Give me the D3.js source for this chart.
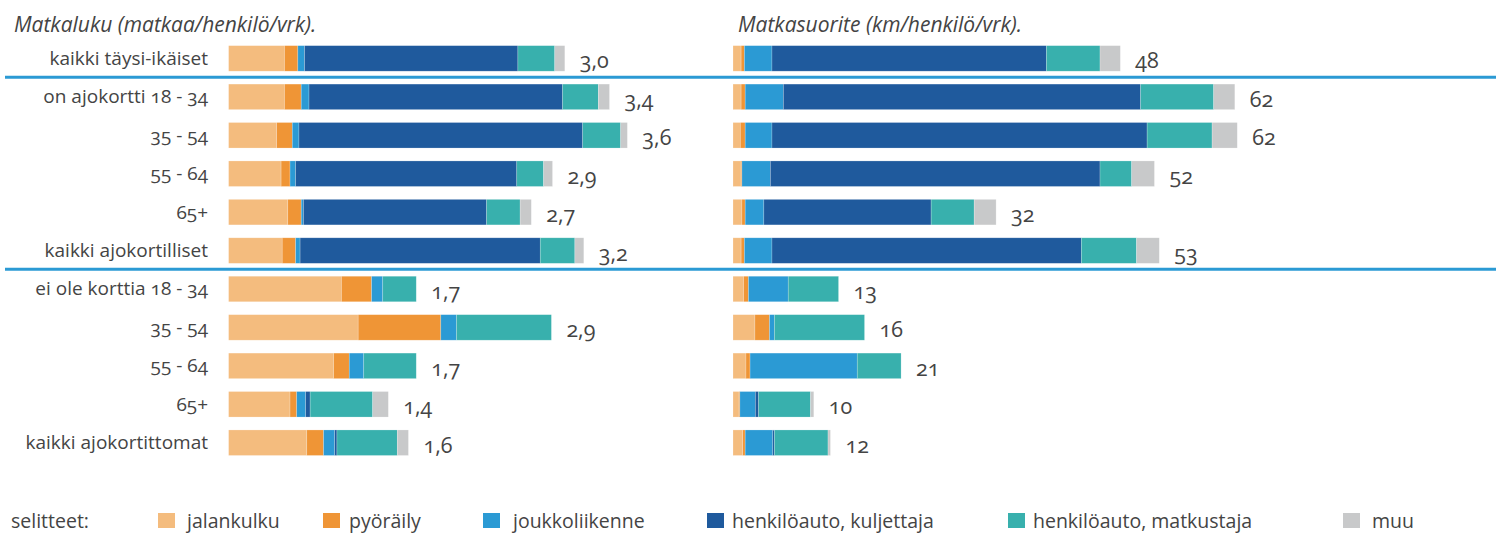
<!DOCTYPE html>
<html lang="fi">
<head>
<meta charset="utf-8">
<script src="https://cdn.jsdelivr.net/npm/d3@7"></script>
<style>
  html, body { margin: 0; padding: 0; background: #fff; }
  svg { display: block; font-family: "Open Sans", "Noto Sans", sans-serif; }
  .num { font-variant-numeric: oldstyle-nums; font-feature-settings: "onum" 1; }
</style>
</head>
<body>
<svg id="chart" width="1496" height="535"></svg>
<script>
// Ryhmät (rivit ylhäältä alas)
const categories = [
  "kaikki täysi-ikäiset",
  "on ajokortti 18 - 34", "35 - 54", "55 - 64", "65+", "kaikki ajokortilliset",
  "ei ole korttia 18 - 34", "35 - 54", "55 - 64", "65+", "kaikki ajokortittomat"
];

const modes = ["jalankulku", "pyöräily", "joukkoliikenne",
               "henkilöauto, kuljettaja", "henkilöauto, matkustaja", "muu"];
const modeColors = ["#f4bc7e", "#ef9536", "#2b9ad4", "#1f5a9d", "#38b0ad", "#c8c9ca"];

// Matkaluku (matkaa/henkilö/vrk), kulkutavoittain
const tripsWalk      = [0.50, 0.50, 0.43, 0.47, 0.53, 0.48, 1.01, 1.16, 0.94, 0.55, 0.70];
const tripsBike      = [0.12, 0.15, 0.14, 0.08, 0.12, 0.12, 0.27, 0.74, 0.14, 0.06, 0.15];
const tripsTransit   = [0.06, 0.07, 0.06, 0.05, 0.02, 0.04, 0.10, 0.14, 0.13, 0.08, 0.10];
const tripsDriver    = [1.91, 2.27, 2.54, 1.98, 1.64, 2.15, 0.00, 0.00, 0.00, 0.04, 0.02];
const tripsPassenger = [0.33, 0.32, 0.34, 0.24, 0.30, 0.31, 0.30, 0.85, 0.47, 0.56, 0.54];
const tripsOther     = [0.09, 0.10, 0.06, 0.08, 0.10, 0.08, 0.00, 0.00, 0.00, 0.14, 0.10];
const tripsTotalLabels = ["3,0", "3,4", "3,6", "2,9", "2,7", "3,2", "1,7", "2,9", "1,7", "1,4", "1,6"];

// Matkasuorite (km/henkilö/vrk), kulkutavoittain
const kmWalk      = [1.0, 1.0, 0.9, 1.0, 1.1, 1.0, 1.3, 2.7, 1.6, 0.75, 1.2];
const kmBike      = [0.4, 0.5, 0.6, 0.1, 0.4, 0.4, 0.6, 1.8, 0.5, 0.1, 0.3];
const kmTransit   = [3.4, 4.7, 3.3, 3.5, 2.3, 3.4, 4.9, 0.6, 13.2, 1.9, 3.4];
const kmDriver    = [33.8, 44.0, 46.2, 40.6, 20.6, 38.1, 0.0, 0.0, 0.0, 0.4, 0.2];
const kmPassenger = [6.6, 9.0, 8.0, 3.9, 5.3, 6.8, 6.2, 11.1, 5.4, 6.4, 6.6];
const kmOther     = [2.5, 2.6, 3.1, 2.8, 2.7, 2.8, 0.0, 0.0, 0.0, 0.4, 0.3];
const kmTotalLabels = ["48", "62", "62", "52", "32", "53", "13", "16", "21", "10", "12"];

const svg = d3.select("#chart");
const textColor = "#444";

// Rivien sijainnit
const y = d3.scaleBand()
  .domain(d3.range(categories.length))
  .range([39.2, 39.2 + 38.43 * categories.length])
  .paddingInner(0.336)
  .paddingOuter(0.168);

function stackRows(series) {
  return categories.map((c, i) => {
    let acc = 0;
    return series.map((s, k) => {
      const seg = { row: i, mode: k, x0: acc, x1: acc + s[i] };
      acc += s[i];
      return seg;
    });
  });
}

function drawPanel(opts) {
  const { title, titleX, x, series, labels } = opts;
  const g = svg.append("g");

  g.append("text")
    .attr("x", titleX).attr("y", 31.5)
    .attr("font-size", 21).attr("font-style", "italic")
    .attr("fill", textColor)
    .text(title);

  const rows = stackRows(series);
  const rowG = g.selectAll("g.row").data(rows).join("g").attr("class", "row");

  rowG.selectAll("rect")
    .data(d => d.filter(s => s.x1 - s.x0 > 0))
    .join("rect")
    .attr("x", d => x(d.x0))
    .attr("width", d => x(d.x1) - x(d.x0))
    .attr("y", d => y(d.row))
    .attr("height", y.bandwidth())
    .attr("fill", d => modeColors[d.mode])
    .attr("stroke", "#fff").attr("stroke-opacity", 0.35).attr("stroke-width", 0.6);

  rowG.append("text")
    .attr("class", "num")
    .attr("x", d => x(d[d.length - 1].x1) + 15)
    .attr("y", (d, i) => y(i) + y.bandwidth() / 2 + 10)
    .attr("font-size", 21.5)
    .attr("fill", textColor)
    .text((d, i) => labels[i]);
}

// Vasen paneeli: matkaluku
const xTrips = d3.scaleLinear().domain([0, 1]).range([228.6, 228.6 + 111.7]);
drawPanel({
  title: "Matkaluku (matkaa/henkilö/vrk).",
  titleX: 14,
  x: xTrips,
  series: [tripsWalk, tripsBike, tripsTransit, tripsDriver, tripsPassenger, tripsOther],
  labels: tripsTotalLabels
});

// Oikea paneeli: matkasuorite
const xKm = d3.scaleLinear().domain([0, 10]).range([733, 733 + 81.2]);
drawPanel({
  title: "Matkasuorite (km/henkilö/vrk).",
  titleX: 738,
  x: xKm,
  series: [kmWalk, kmBike, kmTransit, kmDriver, kmPassenger, kmOther],
  labels: kmTotalLabels
});

// Ryhmien nimet
svg.append("g").selectAll("text")
  .data(categories)
  .join("text")
  .attr("class", "num")
  .attr("x", 208)
  .attr("y", (d, i) => y(i) + y.bandwidth() / 2 + 6.5)
  .attr("text-anchor", "end")
  .attr("font-size", 19)
  .attr("fill", textColor)
  .text(d => d);

// Ryhmien erottimet
const separators = [0.5, 5.5];
svg.append("g").selectAll("line")
  .data(separators)
  .join("line")
  .attr("x1", 5).attr("x2", 1496)
  .attr("y1", d => y(Math.floor(d)) + y.step() - (y.step() - y.bandwidth()) / 2 - 0.5)
  .attr("y2", d => y(Math.floor(d)) + y.step() - (y.step() - y.bandwidth()) / 2 - 0.5)
  .attr("stroke", "#2b9ad4").attr("stroke-width", 3);

// Selitteet
const legendX = [158, 323, 483, 707, 1008, 1343];
const legendTextX = [187, 349, 513, 732, 1033, 1372];
const lg = svg.append("g");
lg.append("text")
  .attr("x", 11).attr("y", 528)
  .attr("font-size", 19.5).attr("fill", textColor)
  .text("selitteet:");
const item = lg.selectAll("g.item").data(modes).join("g").attr("class", "item");
item.append("rect")
  .attr("x", (d, i) => legendX[i]).attr("y", 513)
  .attr("width", 17).attr("height", 15)
  .attr("fill", (d, i) => modeColors[i]);
item.append("text")
  .attr("x", (d, i) => legendTextX[i]).attr("y", 528)
  .attr("font-size", 19.5).attr("fill", textColor)
  .text(d => d);
</script>
</body>
</html>
